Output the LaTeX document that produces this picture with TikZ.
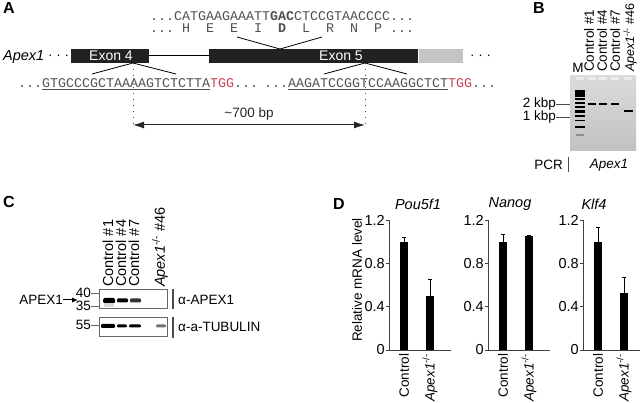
\documentclass[tikz,border=0pt]{standalone}
\usepackage{fontspec}
\setmainfont{Liberation Sans}
\setmonofont{Liberation Mono}
\usetikzlibrary{arrows.meta,positioning}

\definecolor{seqgray}{HTML}{505050}
\definecolor{pamred}{HTML}{C8404F}
\definecolor{utrgray}{HTML}{C4C4C4}
\newcommand{\gene}{\textit{Apex1}}
\newcommand{\ko}{\textit{Apex1}\textsuperscript{-/-}}

\tikzset{
  lbl/.style={font=\fontsize{13.5}{15}\selectfont, inner sep=0pt},
  panel/.style={font=\fontsize{16}{18}\selectfont\bfseries, inner sep=0pt, anchor=north west},
  seq/.style={font=\fontsize{13.33}{15}\selectfont\ttfamily, text=seqgray, inner sep=0pt, anchor=base west},
  exon/.style={fill=black!87, minimum height=14pt, inner sep=0pt, anchor=west},
  lane/.style={lbl, rotate=90, anchor=west},
  bigLane/.style={lane, font=\fontsize{14.5}{16}\selectfont},
  blot/.style={draw=black!60, line width=0.9pt, fill=white, inner sep=0pt, anchor=north west,
    minimum width=68pt, minimum height=19pt},
  guide/.style={black!70, line width=0.9pt, dash pattern=on 1pt off 5pt},
  ticklbl/.style={font=\fontsize{14.5}{16}\selectfont, inner sep=0pt, anchor=east},
  axis/.style={black!75, line width=0.7pt},
}

\begin{document}
\begin{tikzpicture}[x=1pt,y=-1pt]
\useasboundingbox (0,0) rectangle (640,403);

% A: gene model of Apex1 with the two guide sites
\node[panel] (labA) at (3,2) {A};
\node[seq, text height=8pt, text depth=0pt] (codons) at (150,21) {...CATGAAGAAATT\textbf{GAC}CTCCGTAACCCC...};
\node[seq, text height=8pt, text depth=0pt] (aminos) at (150,33) {...~H~~E~~E~~I~~\textbf{D}~~L~~R~~N~~P~...};

\node[lbl, anchor=west, font=\fontsize{14.5}{16}\selectfont] (gname) at (3,57) {\gene};
\node[lbl, anchor=west] (gdotsL) at (48,57) {· · ·};
\node[exon, minimum width=78pt] (ex4) at (71,56) {};
\node[exon, minimum width=209pt] (ex5) at (209,56) {};
\node[fill=utrgray, minimum height=14pt, minimum width=44pt, inner sep=0pt, anchor=west] (utr) at (ex5.east) {};
\node[lbl, anchor=west] (gdotsR) at (470,57) {· · ·};
\node[lbl, text=white, font=\fontsize{14}{16}\selectfont] (ex4txt) at (111,56) {Exon 4};
\node[lbl, text=white, font=\fontsize{14}{16}\selectfont] (ex5txt) at (341,56) {Exon 5};
\draw[line width=1pt] (ex4.east) -- (ex5.west);

% zoom onto the codon
\coordinate (codL) at (237,37);
\coordinate (codR) at (322,37);
\coordinate (codTip) at (280,49);
\draw[line width=0.8pt] (codL) -- (codTip) -- (codR);

% sgRNA targets
\coordinate (cut4) at (133,63);
\coordinate (s4l) at (92,74);
\coordinate (s4r) at (176,74);
\coordinate (cut5) at (365,63);
\coordinate (s5l) at (324,74);
\coordinate (s5r) at (407,74);
\draw[line width=0.8pt] (s4l) -- (cut4) -- (s4r);
\draw[line width=0.8pt] (s5l) -- (cut5) -- (s5r);
\node[seq] (sg4) at (18,88) {...\underline{GTGCCCGCTAAAAGTCTCTTA}\textcolor{pamred}{TGG}...};
\node[seq] (sg5) at (264,88) {...\underline{AAGATCCGGTCCAAGGCTCT}\textcolor{pamred}{TGG}...};

\coordinate (m4) at (133,125);
\coordinate (m5) at (365,125);
\draw[guide] (cut4) -- (m4);
\draw[guide] (cut5) -- (m5);
\draw[{Latex[length=11pt,width=7pt]}-{Latex[length=11pt,width=7pt]}, line width=1pt, black!85]
  (m4) -- (m5) node[lbl, midway, above=4pt] (bp) {\textasciitilde 700 bp};

% B: PCR gel
\node[panel] (labB) at (533,2) {B};
\node[top color=black!14, bottom color=black!24, minimum width=66pt, minimum height=75pt,
  inner sep=0pt, anchor=north west] (gel) at (570,75) {};
\foreach \x in {580,592,603,615,628}
  \fill[white, opacity=0.45] (\x-4,77.5) rectangle (\x+4,80);
\foreach \y/\h in {92/3.5, 95.5/2.5, 99/2.5, 103/2, 107/2, 111.5/2.5, 116/2, 120.5/1.8, 127/1.5}
  \fill (575,\y-\h/2) rectangle (585,\y+\h/2);
\fill[black!45] (576,134.3) rectangle (584,135.7);
\foreach \x in {592,603,615}
  \fill (\x-4,103.5) rectangle (\x+4,105);
\fill (624,110.5) rectangle (633,112);

\node[lbl, anchor=south] (laneM) at (578,73) {M};
\node[lane] (b1) at (589,72) {Control \#1};
\node[lane] (b4) at (602,72) {Control \#4};
\node[lane] (b7) at (615,72) {Control \#7};
\node[lane, font=\fontsize{12.5}{14}\selectfont] (b46) at (630,72) {\ko\ \#46};

\node[lbl, anchor=east] (kb2) at (556,104) {2 kbp};
\node[lbl, anchor=east] (kb1) at (556,117) {1 kbp};
\draw[black!70] (kb2.east) -- (kb2.east -| gel.west);
\draw[black!70] (kb1.east) -- (kb1.east -| gel.west);

\node[lbl, anchor=east] (pcr) at (563,165) {PCR};
\draw[black!70, line width=0.8pt] (568,157) -- (568,172);
\node[lbl] (pcrgene) at (609,165) {\gene};

% C: western blot
\node[panel] (labC) at (3,196) {C};
\node[bigLane] (c1) at (108,287) {Control \#1};
\node[bigLane] (c4) at (121,287) {Control \#4};
\node[bigLane] (c7) at (134,287) {Control \#7};
\node[bigLane] (c46) at (160,287) {\ko\ \#46};

\node[blot] (wb1) at (99,289) {};
\fill[rounded corners=1.5pt] (103,298) rectangle (115,303.5);
\fill[black!15] (104,303) rectangle (114,307);
\fill[rounded corners=1.2pt] (117,298.5) rectangle (128,302.5);
\fill[black!80, rounded corners=1.2pt] (130,298.5) rectangle (141,302.5);

\node[lbl, anchor=east] (k40) at (91,293) {40};
\node[lbl, anchor=east] (k35) at (91,306) {35};
\draw[black!60] (k40.east) -- (k40.east -| wb1.west);
\draw[black!60] (k35.east) -- (k35.east -| wb1.west);
\node[lbl, anchor=east] (apx) at (63,300) {APEX1};
\coordinate (apxtip) at (78,300);
\draw[-{Latex[length=6pt,width=5pt]}, line width=1pt] (apx.east) -- (apxtip);
\draw[line width=1.6pt, black!70] (173,289) -- (173,309);
\node[lbl, anchor=west] (ab1) at (178,300) {α-APEX1};

\node[blot] (wb2) at (99,317) {};
\fill[rounded corners=1.2pt] (101,324) rectangle (115,328);
\fill[rounded corners=1.2pt] (117,324.5) rectangle (127,327.5);
\fill[rounded corners=1.2pt] (129,324.5) rectangle (141,327.5);
\fill[black!55, rounded corners=1.2pt] (156,324.5) rectangle (166,327.5);
\node[lbl, anchor=east] (k55) at (91,325) {55};
\draw[black!60] (k55.east) -- (k55.east -| wb2.west);
\draw[line width=1.6pt, black!70] (173,317) -- (173,338);
\node[lbl, anchor=west] (ab2) at (178,327) {α-a-TUBULIN};

% D: qPCR of pluripotency genes
\node[panel] (labD) at (333,198) {D};
\node[lbl, rotate=90] (ylab) at (357,280) {Relative mRNA level};
\foreach \ox/\gn/\tx/\cv/\ce/\av/\ae in {389/Pou5f1/418/1.0/1.04/0.5/0.65,
    488/Nanog/510/1.0/1.07/1.05/1.06, 583/Klf4/594/1.0/1.13/0.53/0.67} {
  \node[lbl, font=\fontsize{14.5}{16}\selectfont\itshape] (t\gn) at (\tx,204) {\gn};
  \begin{scope}[shift={(\ox,350)}, y=108.3pt]
    \draw[axis] (0,1.2) -- (0,0) -- (62,0);
    \foreach \v in {0,0.4,0.8,1.2} {
      \draw[axis] (-3,\v) -- (0,\v);
      \node[ticklbl] at (-4,\v) {\v};
    }
    \fill (11,0) rectangle (19,\cv);
    \fill (37,0) rectangle (45,\av);
    \draw[line width=0.8pt] (15,\cv) -- (15,\ce) (13,\ce) -- (17,\ce);
    \draw[line width=0.8pt] (41,\av) -- (41,\ae) (39,\ae) -- (43,\ae);
    \node[lane, anchor=east] (xc\gn) at (15,-0.035) {Control};
    \node[lane, anchor=east] (xk\gn) at (41,-0.035) {\ko};
  \end{scope}
}
\end{tikzpicture}
\end{document}
